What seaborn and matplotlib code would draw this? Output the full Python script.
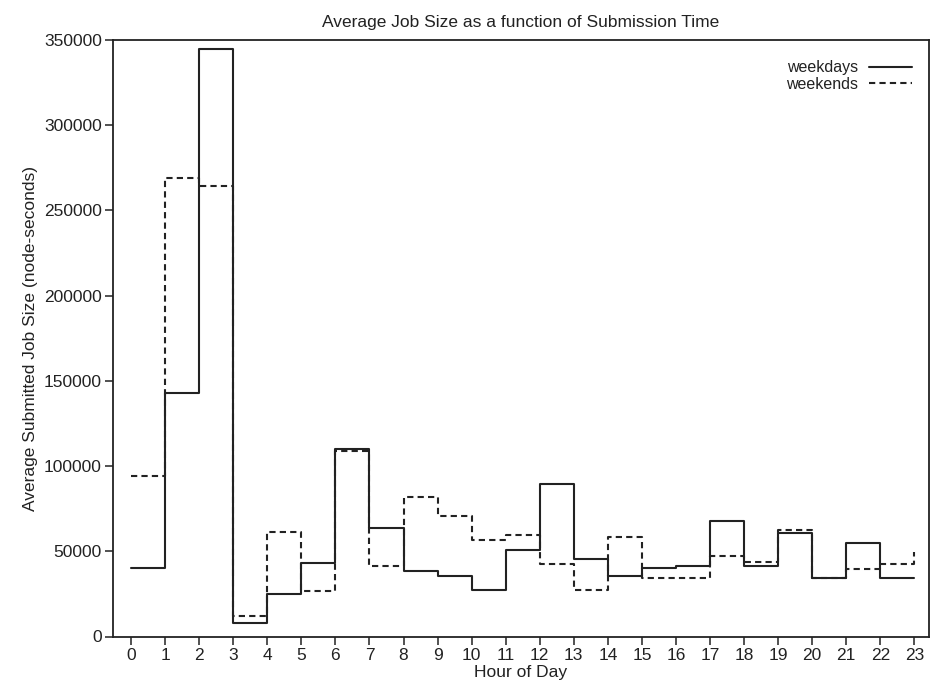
import matplotlib
matplotlib.use("Agg")
import matplotlib.pyplot as plt
import seaborn as sns
import pandas as pd
import numpy as np

hours = list(range(24))
weekdays = [40000, 143000, 345000, 8000, 25000, 43000, 110000, 63500, 38600, 35700,
            27000, 50800, 89400, 45300, 35500, 40400, 41600, 67800, 41600, 61000,
            34500, 55100, 34500, 34500]
weekends = [94400, 269000, 264500, 11800, 61500, 26800, 109000, 41600, 81700, 70800,
            56700, 59600, 42600, 27000, 58600, 34500, 34500, 47300, 43900, 62500,
            34500, 39500, 42600, 49800]
x_ticks = list(range(24))
y_ticks = [0, 50000, 100000, 150000, 200000, 250000, 300000, 350000]

sns.set_theme(style="white")
plt.rcParams['font.family'] = ['Liberation Sans', 'DejaVu Sans']

ink = "#222222"
fs = 12.5
fig = plt.figure(figsize=(9.31, 6.88), dpi=100)
ax = fig.add_axes([113 / 931, 1 - 636.5 / 688, (929 - 113) / 931, (636.5 - 40) / 688])

sns.lineplot(x=hours, y=weekdays, drawstyle="steps-post", color=ink, lw=1.5,
             ax=ax, label="weekdays")
sns.lineplot(x=hours, y=weekends, drawstyle="steps-post", color=ink, lw=1.5,
             linestyle=(0, (3, 2)), ax=ax, label="weekends")

ax.set_xlim(-0.53, 23.43)
ax.set_ylim(0, 350000)
ax.set_xticks(x_ticks)
ax.set_xticklabels([str(t) for t in x_ticks])
ax.set_yticks(y_ticks)
ax.set_yticklabels([str(t) for t in y_ticks])

for s in ax.spines.values():
    s.set_color(ink)
    s.set_linewidth(1.3)
ax.tick_params(axis="both", direction="out", length=6, width=1.1, colors=ink,
               labelsize=fs, labelcolor=ink, bottom=True, left=True, pad=2)

ax.set_title("Average Job Size as a function of Submission Time", fontsize=fs,
             color=ink, pad=9)
ax.set_xlabel("Hour of Day", fontsize=fs, color=ink, labelpad=2)
ax.set_ylabel("Average Submitted Job Size (node-seconds)", fontsize=fs,
              color=ink, labelpad=4)

leg = ax.legend(loc="upper right", bbox_to_anchor=(0.993, 0.985), frameon=False,
                markerfirst=False, fontsize=11.5, handlelength=2.7,
                handletextpad=0.7, labelspacing=0.1, borderpad=0.2)
for t in leg.get_texts():
    t.set_color(ink)

fig.savefig("out.png", dpi=100)
